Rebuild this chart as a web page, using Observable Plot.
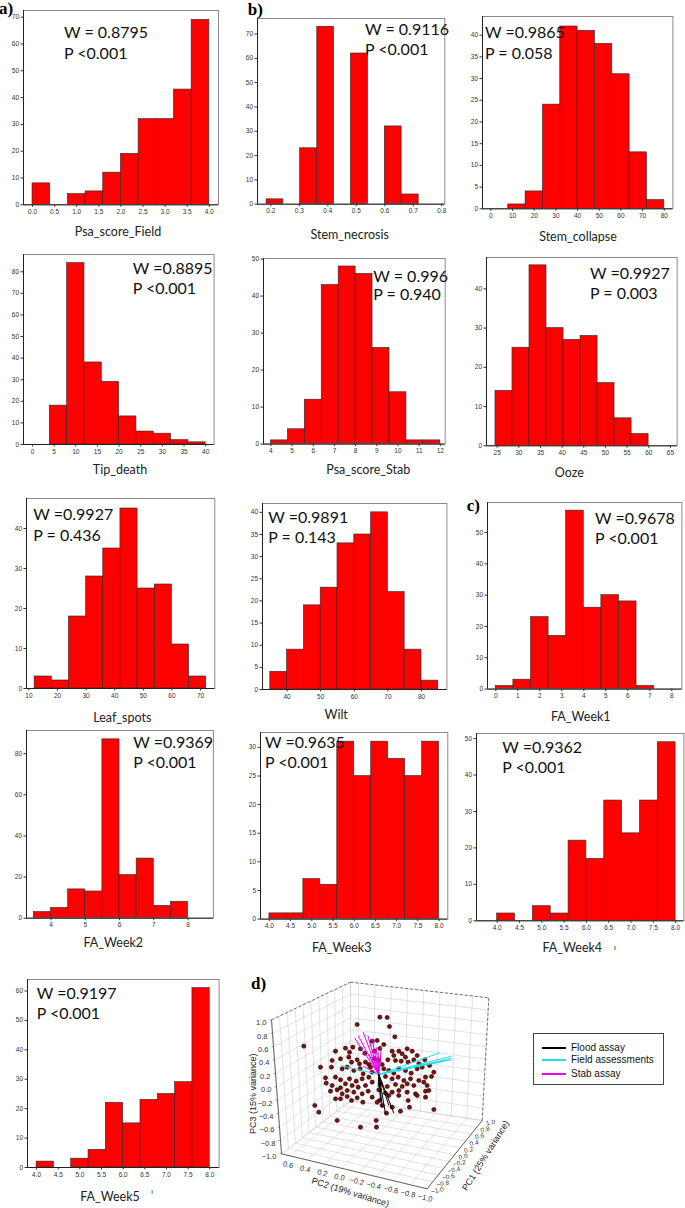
<!DOCTYPE html>
<html><head><meta charset="utf-8">
<script src="https://cdn.jsdelivr.net/npm/d3@7"></script>
<script src="https://cdn.jsdelivr.net/npm/@observablehq/plot@0.6"></script>
<style>
body{margin:0;background:#fff;}
#wrap{position:relative;width:685px;height:1208px;overflow:hidden;background:#fff;}
.ann{position:absolute;font-family:Lato,sans-serif;font-size:16px;color:#111;white-space:nowrap;line-height:1;transform:translateY(-50%);}
.lab{position:absolute;font-family:Lato,sans-serif;font-size:12.5px;color:#222;white-space:nowrap;line-height:1;transform:translate(-50%,-50%);}
.let{position:absolute;font-family:"Liberation Serif",serif;font-weight:bold;font-size:17px;color:#000;line-height:1;transform:translateY(-50%);}
.leg{position:absolute;border:1px solid #444;background:#fff;font-family:"Liberation Sans",Arial,sans-serif;font-size:10px;color:#111;}
.leg .row{position:absolute;left:0;white-space:nowrap;line-height:1;transform:translateY(-50%);}
.leg .ln{position:absolute;left:8px;width:24px;height:2px;top:50%;margin-top:-1px;}
.leg .tx{position:absolute;left:37px;top:0;transform:translateY(-50%);}
</style></head><body><div id="wrap"></div>
<script>
// ---------- histogram data (bin edges and counts) ----------
const psaFieldEdges = [0,0.4,0.8,1.2,1.6,2.0,2.4,2.8,3.2,3.6,4.0];
const psaFieldCounts = [8,0,4,5,12,19,32,32,43,69];
const stemNecrosisEdges = [0.185,0.244,0.303,0.363,0.422,0.481,0.541,0.600,0.659,0.719];
const stemNecrosisCounts = [2,0,23,73,0,62,0,32,4];
const stemCollapseEdges = [8,16,24,32,40,48,56,64,72,80];
const stemCollapseCounts = [1,4,24,42,41,38,31,13,2];
const tipDeathEdges = [4,8,12,16,20,24,28,32,36,40];
const tipDeathCounts = [18,84,38,29,13,6,5,2,1];
const psaStabEdges = [4.0,4.8,5.6,6.4,7.2,8.0,8.8,9.6,10.4,11.2,12.0];
const psaStabCounts = [1,4,12,43,48,46,26,14,1,1];
const oozeEdges = [24.6,28.53,32.46,36.39,40.32,44.25,48.18,52.11,56.04,59.97];
const oozeCounts = [14,25,46,30,27,28,16,7,3];
const leafSpotsEdges = [12,18,24,30,36,42,48,54,60,66,72];
const leafSpotsCounts = [3,2,18,28,35,45,25,26,11,3];
const wiltEdges = [35,40,45,50,55,60,65,70,75,80,85];
const wiltCounts = [4,9,19,23,33,35,40,22,9,2];
const faWeek1Edges = [0,0.8,1.6,2.4,3.2,4.0,4.8,5.6,6.4,7.2];
const faWeek1Counts = [1,3,23,17,57,26,30,28,1];
const faWeek2Edges = [3.5,4.0,4.5,5.0,5.5,6.0,6.5,7.0,7.5,8.0];
const faWeek2Counts = [3,5,14,13,87,21,29,6,8];
const faWeek3Edges = [4.0,4.4,4.8,5.2,5.6,6.0,6.4,6.8,7.2,7.6,8.0];
const faWeek3Counts = [1,1,7,6,31,25,31,28,25,31];
const faWeek4Edges = [4.0,4.4,4.8,5.2,5.6,6.0,6.4,6.8,7.2,7.6,8.0];
const faWeek4Counts = [2,0,4,2,22,17,33,24,33,49];
const faWeek5Edges = [4.0,4.4,4.8,5.2,5.6,6.0,6.4,6.8,7.2,7.6,8.0];
const faWeek5Counts = [2,0,3,6,22,15,23,25,29,61];

// ---------- tick labels ----------
const ticksHalf4 = [0,0.5,1,1.5,2,2.5,3,3.5,4];
const ticksNecrosis = [0.2,0.3,0.4,0.5,0.6,0.7,0.8];
const ticksCollapse = [0,10,20,30,40,50,60,70,80];
const ticksTip = [0,5,10,15,20,25,30,35,40];
const ticksStab = [4,5,6,7,8,9,10,11,12];
const ticksOoze = [25,30,35,40,45,50,55,60,65];
const ticksLeaf = [10,20,30,40,50,60,70];
const ticksWilt = [40,50,60,70,80];
const ticksWeek1 = [0,1,2,3,4,5,6,7,8];
const ticksWeek2 = [4,5,6,7,8];
const ticksWeek345 = [4,4.5,5,5.5,6,6.5,7,7.5,8];

// ---------- Shapiro-Wilk statistics ----------
const statW = ["W = 0.8795","W = 0.9116","W =0.9865","W =0.8895","W = 0.996","W =0.9927","W =0.9927","W =0.9891","W =0.9678","W =0.9369","W =0.9635","W =0.9362","W =0.9197"];
const statP = ["P <0.001","P <0.001","P = 0.058","P <0.001","P = 0.940","P = 0.003","P = 0.436","P = 0.143","P <0.001","P <0.001","P <0.001","P <0.001","P <0.001"];
const varNames = ["Psa_score_Field","Stem_necrosis","Stem_collapse","Tip_death","Psa_score_Stab","Ooze","Leaf_spots","Wilt","FA_Week1","FA_Week2","FA_Week3","FA_Week4","FA_Week5"];

// ---------- PCA (d) data: scores in projected view units, loadings ----------
const pcaPoints = [[463,290],[485,291],[492,318],[395,312],[508,349],[235,377],
[330,392],[360,383],[372,395],[382,380],[405,385],[418,398],[440,362],[455,360],[463,384],[475,372],[447,392],
[500,392],[520,392],[545,385],[560,392],[530,400],[505,405],[540,410],[575,405],
[320,420],[345,415],[370,410],[378,425],[395,418],[402,430],[420,425],[430,432],[447,415],[460,420],[470,432],[487,418],[510,420],[527,422],[548,425],[565,418],[580,430],[598,418],
[285,440],[318,440],[350,445],[365,440],[385,450],[404,445],[413,460],[435,440],[440,455],[475,445],[490,450],[505,458],[520,445],[540,450],[557,458],[575,445],[590,440],[612,435],[625,455],
[300,472],[330,470],[345,478],[372,475],[392,482],[410,475],[430,470],[480,468],[500,475],[518,470],[535,480],[555,475],[580,480],[600,470],[618,468],
[302,488],[320,495],[345,502],[360,490],[380,495],[398,500],[420,495],[440,485],[465,490],[485,498],[510,492],[530,498],[545,490],[565,495],[595,485],[605,495],
[315,512],[335,508],[350,520],[365,510],[385,515],[410,520],[428,512],[460,508],[480,518],[500,515],[520,510],[545,515],[570,520],[600,512],[610,510],
[330,535],[345,535],[365,528],[378,540],[395,532],[412,545],[440,530],[462,540],[490,525],[520,525],[548,540],[575,525],[600,530],
[268,555],[280,575],[455,545],[470,555],[483,578],[500,560],[525,572],[552,560],[625,567],
[335,600],[452,600],[405,620],[453,620]];
const loadingOrigin = [460,462];
const floodLoadings = [[480,580],[505,578],[470,560],[465,540],[490,555],[458,500]];
const fieldLoadings = [[643,397],[678,407],[680,413],[676,418],[660,420],[345,435]];
const stabLoadings = [[387,352],[398,345],[413,335],[427,345],[440,355],[452,380],[468,378],[458,395],[413,437],[430,400]];
const pc1Ticks = [-1,-0.8,-0.6,-0.4,-0.2,0,0.2,0.4,0.6,0.8,1];
const pc2Ticks = [0.6,0.4,0.2,0,-0.2,-0.4,-0.6,-0.8,-1];
const pc3Ticks = [1,0.8,0.6,0.4,0.2,0,-0.2,-0.4,-0.6,-0.8,-1];
const legendNames = ["Flood assay","Field assessments","Stab assay"];
const legendColors = ["#000000","#22e0e8","#ee00ee"];

// ---------- layout ----------
const wrap = document.getElementById("wrap");
const f1 = d3.format(".1f");
const f0 = d3.format("d");
const panels = [
 {edges:psaFieldEdges,counts:psaFieldCounts,frame:[23.3,10,195,194.3],xd:[-0.204,4.208],yd:[0,72.5],xt:ticksHalf4,xf:f1,yt:d3.range(0,71,10),ann:[64,32.3,53.3],lab:[118,232]},
 {edges:stemNecrosisEdges,counts:stemNecrosisCounts,frame:[256.7,18.3,187.3,185.7],xd:[0.1533,0.8105],yd:[0,76.4],xt:ticksNecrosis,xf:f1,yt:d3.range(0,71,10),ann:[365,28.8,49],lab:[349.7,235]},
 {edges:stemCollapseEdges,counts:stemCollapseCounts,frame:[482.3,16,190.4,192.3],xd:[-3.88,83.97],yd:[0,44.3],xt:ticksCollapse,xf:f0,yt:d3.range(0,41,5),ann:[485,32,53],lab:[578,237.3]},
 {edges:tipDeathEdges,counts:tipDeathCounts,frame:[22.7,254.3,190.6,190],xd:[-2.08,41.94],yd:[0,88],xt:ticksTip,xf:f0,yt:d3.range(0,81,10),ann:[132.7,268.3,288.3],lab:[120,470]},
 {edges:psaStabEdges,counts:psaStabCounts,frame:[263.3,257.7,181.7,185.6],xd:[3.65,12.23],yd:[0,50.16],xt:ticksStab,xf:f0,yt:d3.range(0,51,10),ann:[373.3,275.5,294],lab:[368.3,470]},
 {edges:oozeEdges,counts:oozeCounts,frame:[486,256.7,190.7,188.3],xd:[22.53,66.57],yd:[0,48],xt:ticksOoze,xf:f0,yt:d3.range(0,41,10),ann:[590,273.3,293.3],lab:[569.3,473.3]},
 {edges:leafSpotsEdges,counts:leafSpotsCounts,frame:[26,498.3,188.3,190],xd:[9.16,75.0],yd:[0,47.5],xt:ticksLeaf,xf:f0,yt:d3.range(0,41,10),ann:[33.3,514.3,535],lab:[122.3,717.7]},
 {edges:wiltEdges,counts:wiltCounts,frame:[262.3,503.3,184.4,186],xd:[32.68,87.56],yd:[0,42],xt:ticksWilt,xf:f0,yt:d3.range(0,41,5),ann:[268.3,516.7,536.7],lab:[336.2,715]},
 {edges:faWeek1Edges,counts:faWeek1Counts,frame:[487.3,501.7,194.4,186.6],xd:[-0.377,8.46],yd:[0,59.6],xt:ticksWeek1,xf:f0,yt:d3.range(0,51,10),ann:[595,518.3,538.3],lab:[580.8,716.7]},
 {edges:faWeek2Edges,counts:faWeek2Counts,frame:[26.2,730,186.9,187.7],xd:[3.285,8.74],yd:[0,91.3],xt:ticksWeek2,xf:f0,yt:d3.range(0,81,20),ann:[133.2,741.7,761.7],lab:[113.3,943.3]},
 {edges:faWeek3Edges,counts:faWeek3Counts,frame:[260.3,731.7,187.3,186.6],xd:[3.79,8.205],yd:[0,32.6],xt:ticksWeek345,xf:f1,yt:d3.range(0,31,5),ann:[265,741.7,761.7],lab:[341.7,948.3]},
 {edges:faWeek4Edges,counts:faWeek4Counts,frame:[476,732.7,207.4,187.3],xd:[3.536,8.186],yd:[0,51.4],xt:ticksWeek345,xf:f1,yt:d3.range(0,51,10),ann:[502.2,746.7,766.7],lab:[572.3,948.3]},
 {edges:faWeek5Edges,counts:faWeek5Counts,frame:[26.7,979.3,191.6,188],xd:[3.79,8.216],yd:[0,63.9],xt:ticksWeek345,xf:f1,yt:d3.range(0,61,10),ann:[36.7,992.7,1013.3],lab:[110,1196.7]}
];

function addDiv(cls, text, x, y) {
  const d = document.createElement("div");
  d.className = cls; d.textContent = text;
  d.style.left = x + "px"; d.style.top = y + "px";
  wrap.appendChild(d); return d;
}

panels.forEach((p, i) => {
  const [fl, ft, fw, fh] = p.frame;
  const ml = 24, mr = 4, mt = 4, mb = 16;
  const bins = p.counts.map((c, k) => ({x1: p.edges[k], x2: p.edges[k + 1], count: c})).filter(d => d.count > 0);
  const svg = Plot.plot({
    width: fw + ml + mr, height: fh + mt + mb,
    marginLeft: ml, marginRight: mr, marginTop: mt, marginBottom: mb,
    x: {domain: p.xd}, y: {domain: p.yd},
    style: {fontFamily: "'Liberation Sans',Arial,sans-serif", fontSize: "6.5px", color: "#333", background: "none", overflow: "visible"},
    marks: [
      Plot.rectY(bins, {x1: "x1", x2: "x2", y: "count", fill: "#ff0000", stroke: "#2a2a2a", strokeWidth: 0.6}),
      Plot.frame({stroke: "#8a8a8a", strokeWidth: 1}),
      Plot.ruleX([p.xd[0]], {stroke: "#222"}),
      Plot.ruleY([p.yd[0]], {stroke: "#222"}),
      Plot.axisX({ticks: p.xt, tickFormat: p.xf, tickSize: 2.5, tickPadding: 2, label: null}),
      Plot.axisY({ticks: p.yt, tickFormat: f0, tickSize: 2.5, tickPadding: 2, label: null})
    ]
  });
  svg.style.position = "absolute";
  svg.style.left = (fl - ml) + "px";
  svg.style.top = (ft - mt) + "px";
  wrap.appendChild(svg);
  addDiv("ann", statW[i], p.ann[0], p.ann[1]);
  addDiv("ann", statP[i], p.ann[0], p.ann[2]);
  addDiv("lab", varNames[i], p.lab[0], p.lab[1]);
});

// small stray marks next to two labels in the original
const m1 = addDiv("lab", "ı", 615, 947); m1.style.fontSize = "8px";
const m2 = addDiv("lab", "ı", 152, 1191); m2.style.fontSize = "7px";

// panel letters
addDiv("let", "a)", -1, 8);
addDiv("let", "b)", 247.7, 9);
addDiv("let", "c)", 466.7, 505);
addDiv("let", "d)", 251, 983);

// ---------- 3D PCA panel ----------
// projection of the [-1,1] x [-1,0.7] x [-1,1] box (PC1, PC2, PC3) onto the view plane
const boxAnchors = {
  "000": [168,700], "010": [605,805], "110": [770,600], "100": [375,540],
  "001": [138,298], "011": [580,355], "111": [790,232], "101": [375,185]
};
const pc2Max = 0.7;
function proj(pc1, pc2, pc3) {
  const s = (pc1 + 1) / 2, t = (pc2Max - pc2) / (pc2Max + 1), w = (pc3 + 1) / 2;
  let x = 0, y = 0;
  for (const a of [0,1]) for (const b of [0,1]) for (const c of [0,1]) {
    const k = (a ? s : 1 - s) * (b ? t : 1 - t) * (c ? w : 1 - w);
    const q = boxAnchors["" + a + b + c];
    x += k * q[0]; y += k * q[1];
  }
  return [x, y];
}
const seg = (p, q) => ({x1: p[0], y1: p[1], x2: q[0], y2: q[1]});
const g1 = d3.range(-1, 1.001, 0.2), g3 = g1, g2 = [...d3.range(-1, 0.61, 0.2), pc2Max];
const grid = [];
g1.forEach(v => { grid.push(seg(proj(v, pc2Max, -1), proj(v, pc2Max, 1))); grid.push(seg(proj(v, pc2Max, -1), proj(v, -1, -1))); });
g3.forEach(v => { grid.push(seg(proj(-1, pc2Max, v), proj(1, pc2Max, v))); grid.push(seg(proj(1, pc2Max, v), proj(1, -1, v))); });
g2.forEach(v => { grid.push(seg(proj(1, v, -1), proj(1, v, 1))); grid.push(seg(proj(-1, v, -1), proj(1, v, -1))); });
const solidEdges = [seg(proj(-1, pc2Max, 1), proj(-1, pc2Max, -1)), seg(proj(-1, pc2Max, -1), proj(-1, -1, -1)), seg(proj(-1, -1, -1), proj(1, -1, -1))];
const dashEdges = [seg(proj(-1, pc2Max, 1), proj(1, pc2Max, 1)), seg(proj(1, pc2Max, 1), proj(1, -1, 1)), seg(proj(1, -1, 1), proj(1, -1, -1))];
const pc3Lab = pc3Ticks.map(v => { const p = proj(-1, pc2Max, v); return {x: p[0], y: p[1], t: f1(v)}; });
const pc3TickSegs = pc3Lab.map(d => ({x1: d.x - 6, y1: d.y, x2: d.x, y2: d.y}));
const pc2Lab = pc2Ticks.map(v => { const p = proj(-1, v, -1); return {x: p[0], y: p[1], t: f1(v)}; });
const pc1Lab = pc1Ticks.map(v => { const p = proj(v, -1, -1); return {x: p[0], y: p[1], t: f1(v)}; });
const loadSegs = (arr, col) => arr.map(e => ({x1: loadingOrigin[0], y1: loadingOrigin[1], x2: e[0], y2: e[1], c: col}));
const loads = [...loadSegs(stabLoadings, legendColors[2]), ...loadSegs(fieldLoadings, legendColors[1]), ...loadSegs(floodLoadings, legendColors[0])];
const axTitles = [
  {p: proj(-1, pc2Max, 0), t: "PC3 (15% variance)", dx: -23, dy: 7, r: -90},
  {p: proj(-1, -0.15, -1), t: "PC2 (19% variance)", dx: -4, dy: 21, r: 17},
  {p: proj(0, -1, -1), t: "PC1 (25% variance)", dx: 31, dy: 1, r: -58}
];

let pca;
try {
pca = Plot.plot({
  width: 460, height: 288, margin: 0,
  x: {domain: [0, 1380], range: [0, 460], axis: null},
  y: {domain: [0, 864], range: [0, 288], axis: null},
  style: {fontFamily: "'Liberation Sans',Arial,sans-serif", fontSize: "7.5px", color: "#333", background: "none", overflow: "visible"},
  marks: [
    Plot.link(grid, {x1: "x1", y1: "y1", x2: "x2", y2: "y2", stroke: "#cfcfcf", strokeWidth: 0.6}),
    Plot.link(dashEdges, {x1: "x1", y1: "y1", x2: "x2", y2: "y2", stroke: "#555", strokeWidth: 0.8, strokeDasharray: "3,2"}),
    Plot.link(solidEdges, {x1: "x1", y1: "y1", x2: "x2", y2: "y2", stroke: "#555", strokeWidth: 0.9}),
    Plot.link(pc3TickSegs, {x1: "x1", y1: "y1", x2: "x2", y2: "y2", stroke: "#555", strokeWidth: 0.6}),
    Plot.text(pc3Lab, {x: "x", y: "y", text: "t", textAnchor: "end", dx: -5, dy: 3, fill: "#333"}),
    Plot.text(pc2Lab, {x: "x", y: "y", text: "t", dx: -2, dy: 9, rotate: 13, fill: "#333"}),
    Plot.text(pc1Lab, {x: "x", y: "y", text: "t", textAnchor: "start", dx: 4, dy: 3, rotate: -12, fontSize: 6.5, fill: "#333"}),
    ...axTitles.map(a => Plot.text([a], {x: d => d.p[0], y: d => d.p[1], text: "t", dx: a.dx, dy: a.dy, rotate: a.r, fontSize: 9, fill: "#222"})),
    Plot.dot(pcaPoints, {x: d => d[0], y: d => d[1], r: 2.1, fill: "#8b0a0a", stroke: "#111", strokeWidth: 0.6}),
    Plot.link(loads, {x1: "x1", y1: "y1", x2: "x2", y2: "y2", stroke: "c", strokeWidth: 1})
  ]
});
} catch (e) {
  pca = document.createElement("pre"); pca.textContent = String(e && e.stack || e); pca.style.fontSize = "8px";
}
pca.style.position = "absolute";
pca.style.left = "225px"; pca.style.top = "920px";
wrap.appendChild(pca);

// legend
const leg = document.createElement("div");
leg.className = "leg";
leg.style.left = "533px"; leg.style.top = "1033px"; leg.style.width = "129px"; leg.style.height = "50px";
[13.7, 26.3, 39.7].forEach((yy, i) => {
  const r = document.createElement("div"); r.className = "row"; r.style.top = yy + "px"; r.style.width = "100%";
  const ln = document.createElement("div"); ln.className = "ln"; ln.style.background = legendColors[i];
  const tx = document.createElement("div"); tx.className = "tx"; tx.textContent = legendNames[i];
  r.appendChild(ln); r.appendChild(tx); leg.appendChild(r);
});
wrap.appendChild(leg);
</script>
</body></html>
